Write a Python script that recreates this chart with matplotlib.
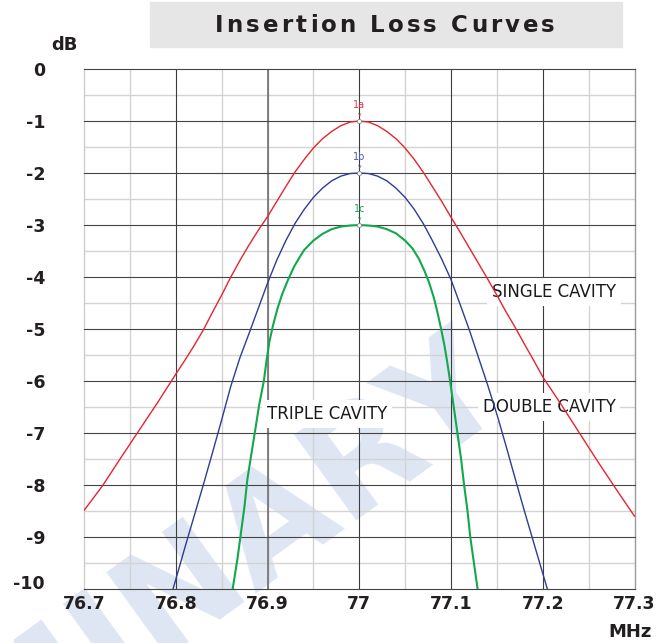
import matplotlib
matplotlib.use("Agg")

import matplotlib.pyplot as plt
from matplotlib.patches import Rectangle
import matplotlib.transforms as mtransforms


# data (MHz, dB)
single_f = [76.70, 76.72, 76.74, 76.76, 76.78, 76.80, 76.81, 76.82, 76.83, 76.84,
            76.85, 76.86, 76.87, 76.88, 76.89, 76.90, 76.91, 76.92, 76.93, 76.94,
            76.95, 76.96, 76.97, 76.98, 76.99, 77.00,
            77.01, 77.02, 77.03, 77.04, 77.05, 77.06, 77.07, 77.08, 77.09, 77.10,
            77.11, 77.12, 77.13, 77.14, 77.15, 77.16, 77.17, 77.18, 77.19, 77.20,
            77.22, 77.24, 77.26, 77.28, 77.30]
single_db = [-8.49, -8.02, -7.48, -6.95, -6.42, -5.87, -5.60, -5.32, -5.02, -4.68,
             -4.35, -4.00, -3.68, -3.38, -3.10, -2.84, -2.55, -2.26, -1.98, -1.74,
             -1.52, -1.34, -1.20, -1.09, -1.02, -1.00,
             -1.02, -1.09, -1.20, -1.34, -1.52, -1.74, -1.99, -2.27, -2.55, -2.85,
             -3.14, -3.44, -3.74, -4.04, -4.35, -4.67, -4.97, -5.29, -5.60, -5.92,
             -6.45, -7.00, -7.55, -8.08, -8.60]

double_f = [76.797, 76.80, 76.81, 76.82, 76.83, 76.84, 76.85, 76.86, 76.87, 76.88,
            76.89, 76.90, 76.91, 76.92, 76.93, 76.94, 76.95, 76.96, 76.97, 76.98,
            76.99, 77.00,
            77.01, 77.02, 77.03, 77.04, 77.05, 77.06, 77.07, 77.08, 77.09, 77.10,
            77.11, 77.12, 77.13, 77.14, 77.15, 77.16, 77.17, 77.18, 77.19, 77.20,
            77.205]
double_db = [-10.0, -9.82, -9.20, -8.60, -8.00, -7.38, -6.75, -6.10, -5.55, -5.08,
             -4.60, -4.12, -3.68, -3.30, -2.97, -2.70, -2.47, -2.29, -2.15, -2.06,
             -2.01, -2.00,
             -2.01, -2.06, -2.15, -2.29, -2.47, -2.70, -2.98, -3.31, -3.66, -4.05,
             -4.53, -5.02, -5.55, -6.08, -6.64, -7.25, -7.88, -8.50, -9.10, -9.70,
             -10.0]

triple_f = [76.862, 76.867, 76.871, 76.875, 76.878, 76.882, 76.887, 76.891, 76.896,
            76.899, 76.902, 76.906, 76.911, 76.916, 76.922, 76.929, 76.935, 76.940,
            76.950, 76.960, 76.970, 76.980, 76.990, 77.000,
            77.010, 77.020, 77.030, 77.040, 77.050, 77.058, 77.065, 77.071, 77.076,
            77.081, 77.085, 77.089, 77.093, 77.096, 77.099, 77.103, 77.107, 77.111,
            77.114, 77.118, 77.121, 77.125, 77.129]
triple_db = [-10.0, -9.45, -8.93, -8.40, -7.90, -7.45, -6.90, -6.45, -6.00,
             -5.60, -5.25, -4.93, -4.60, -4.33, -4.07, -3.80, -3.62, -3.48,
             -3.30, -3.17, -3.08, -3.03, -3.01, -3.00,
             -3.01, -3.03, -3.08, -3.16, -3.30, -3.45, -3.65, -3.88, -4.10,
             -4.38, -4.66, -4.98, -5.33, -5.65, -6.00, -6.50, -7.00, -7.50,
             -7.96, -8.50, -9.00, -9.50, -10.0]

x_ticks = [76.7, 76.8, 76.9, 77.0, 77.1, 77.2, 77.3]
x_labels = ["76.7", "76.8", "76.9", "77", "77.1", "77.2", "77.3"]
y_ticks = [0, -1, -2, -3, -4, -5, -6, -7, -8, -9, -10]
x_minor = [76.75, 76.85, 76.95, 77.05, 77.15, 77.25]
y_minor = [-0.5, -1.5, -2.5, -3.5, -4.5, -5.5, -6.5, -7.5, -8.5, -9.5]

RED = "#e8232e"
BLUE = "#2e3c92"
GREEN = "#12a84c"

W, H = 666, 643
fig = plt.figure(figsize=(W / 100, H / 100), dpi=100)
fig.patch.set_facecolor("white")
renderer = fig.canvas.get_renderer()

# watermark behind everything (cut by the figure edge, as in the original)
fig.text(512 / W, 1 - 398 / H, "PRELIMINARY", rotation=36, rotation_mode="anchor",
         ha="right", va="baseline", fontsize=104, fontweight="bold",
         color="#dfe6f3", zorder=-5)

ax = fig.add_axes([84 / W, 54 / H, 550.5 / W, 520 / H])
ax.patch.set_alpha(0)
ax.set_xlim(76.7, 77.3)
ax.set_ylim(-10, 0)
for s in ax.spines.values():
    s.set_visible(False)

# grid
for v in x_minor:
    ax.axvline(v, color="#d3d3d3", lw=1.0, zorder=1)
for v in y_minor:
    ax.axhline(v, color="#d3d3d3", lw=1.0, zorder=1)
for v in x_ticks[1:-1]:
    ax.axvline(v, color="#3d3d3d", lw=0.8, zorder=1.2)
ax.axvline(76.9, color="#808080", lw=1.4, zorder=1.2)
ax.axvline(76.7, color="#cfcfcf", lw=1.0, zorder=1.2, clip_on=False)
ax.axvline(77.3, color="#9a9a9a", lw=1.0, zorder=1.2, clip_on=False)
for v in y_ticks:
    ax.axhline(v, color="#454545", lw=0.8, zorder=1.2, clip_on=False)

# curves
ax.plot(single_f, single_db, color=RED, lw=1.0, zorder=3)
ax.plot(double_f, double_db, color=BLUE, lw=1.0, zorder=3)
ax.plot(triple_f, triple_db, color=GREEN, lw=1.5, zorder=3)

# peak markers
for tag, db, col in [("1a", -1, "#e8364a"), ("1b", -2, "#4a58ad"), ("1c", -3, "#17a950")]:
    ax.plot(77.0, db, "o", ms=3, mfc="white", mec="#8a8a8a", mew=0.6, zorder=4)
    ax.annotate("v", (77.0, db), xytext=(0, 3), textcoords="offset points",
                ha="center", va="bottom", fontsize=4.5, color=col, zorder=4)
    ax.annotate(tag, (77.0, db), xytext=(0, 8), textcoords="offset points",
                ha="center", va="bottom", fontsize=7, color=col, zorder=4)

box = dict(facecolor="white", edgecolor="none", pad=3.5)
ax.text(77.212, -4.29, "SINGLE CAVITY", fontsize=12, color="#1a1a1a",
        ha="center", va="center", bbox=box, zorder=2.5)
ax.text(77.207, -6.50, "DOUBLE CAVITY", fontsize=12, color="#1a1a1a",
        ha="center", va="center", bbox=box, zorder=2.5)
ax.text(76.965, -6.63, "TRIPLE CAVITY", fontsize=12, color="#1a1a1a",
        ha="center", va="center", bbox=box, zorder=2.5)

# ticks
ax.set_xticks(x_ticks, labels=x_labels)
ax.set_yticks(y_ticks, labels=[str(t) for t in y_ticks])
ax.tick_params(length=0, labelsize=12.5, labelcolor="#231f20")
ax.tick_params(axis="x", pad=4)
ax.tick_params(axis="y", pad=28)
for lab in ax.get_xticklabels() + ax.get_yticklabels():
    lab.set_fontweight("bold")
last = ax.get_yticklabels()[-1]
last.set_transform(last.get_transform() +
                   mtransforms.ScaledTranslation(0, 7 / 100, fig.dpi_scale_trans))

fig.text(64 / W, 1 - 45 / H, "dB", ha="center", va="center", fontsize=13,
         fontweight="bold", color="#231f20")
fig.text(630 / W, 1 - 632 / H, "MHz", ha="center", va="center", fontsize=13,
         fontweight="bold", color="#231f20")

# title band with letter-spaced text
fig.patches.append(Rectangle((150 / W, 1 - 47 / H), 472 / W, 45 / H,
                             transform=fig.transFigure, color="#e6e6e6", zorder=0))
title = "Insertion Loss Curves"
tkw = dict(fontsize=16.5, fontweight="bold", color="#231f20")


def text_width(s):
    t = fig.text(0, 0, s, **tkw)
    w = t.get_window_extent(renderer=renderer).width
    t.remove()
    return w


bar = text_width("|")
offsets = [0 if i == 0 else text_width(title[:i] + "|") - bar for i in range(len(title))]
natural = text_width(title)
spacing = (340 - natural) / (len(title) - 1)
x0 = 385 - (natural + spacing * (len(title) - 1)) / 2
for i, ch in enumerate(title):
    if ch != " ":
        fig.text((x0 + offsets[i] + i * spacing) / W, 1 - 32 / H, ch,
                 ha="left", va="baseline", **tkw)

fig.savefig("out.png", dpi=100)
